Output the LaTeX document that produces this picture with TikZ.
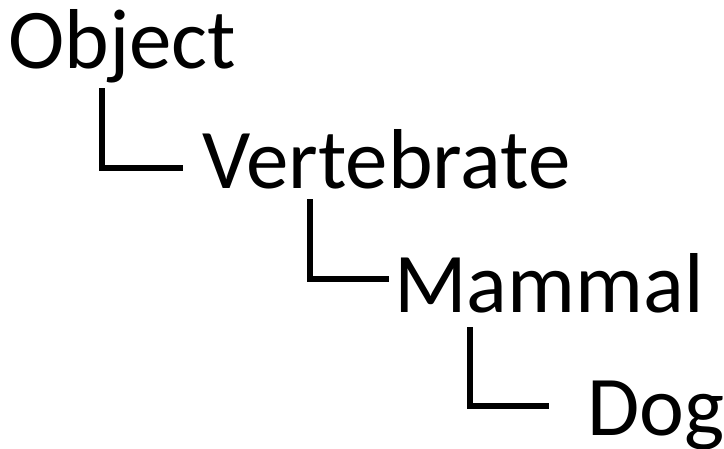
\documentclass[tikz,border=0pt]{standalone}
\usepackage{fontspec}
\setmainfont{Carlito}
\begin{document}
\begin{tikzpicture}[x=1pt,y=-1pt,
  lbl/.style={anchor=base west,inner sep=0pt,font=\fontsize{85}{92}\selectfont},
  conn/.style={line width=5.5pt,line join=miter,line cap=rect}]
\useasboundingbox (0,0) rectangle (724,448);
\node[lbl] (obj) at (8,68) {Object};
\node[lbl] (vert) at (202,188) {Vertebrate};
\node[lbl] (mam) at (394,312) {Mammal};
\node[lbl] (dog) at (587,435) {Dog};
\coordinate (a1) at (102,91);
\coordinate (b1) at (180,168);
\coordinate (a2) at (310,202);
\coordinate (b2) at (386,279);
\coordinate (a3) at (470,330);
\coordinate (b3) at (546,406);
\draw[conn] (a1) |- (b1);
\draw[conn] (a2) |- (b2);
\draw[conn] (a3) |- (b3);
\end{tikzpicture}
\end{document}
